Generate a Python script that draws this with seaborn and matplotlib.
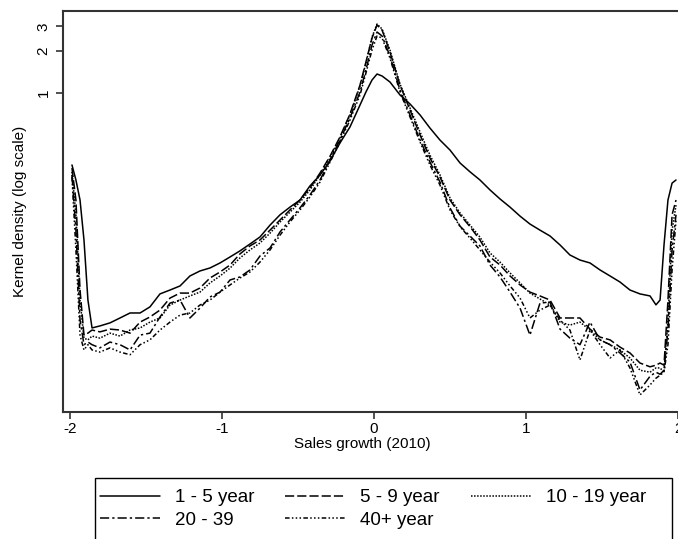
import matplotlib
matplotlib.use("Agg")
import matplotlib.pyplot as plt
from matplotlib.patches import Rectangle
import seaborn as sns
import pandas as pd

# evaluation grid (sales growth)
growth = [-1.987, -1.961, -1.934, -1.908, -1.882, -1.855,
          -1.803, -1.737, -1.671, -1.605, -1.539, -1.474, -1.408, -1.342, -1.276,
          -1.211, -1.145, -1.079, -1.013, -0.947, -0.882, -0.816, -0.750, -0.684,
          -0.618, -0.553, -0.487, -0.421, -0.355, -0.289, -0.224, -0.158, -0.092,
          -0.053, -0.013, 0.020, 0.053, 0.105,
          0.171, 0.237, 0.303, 0.368, 0.434, 0.500, 0.566, 0.632, 0.697, 0.763,
          0.829, 0.895, 0.961, 1.026, 1.092, 1.158, 1.224, 1.289, 1.355, 1.421,
          1.487, 1.553, 1.618, 1.684, 1.750, 1.816,
          1.855, 1.882, 1.908, 1.934, 1.961, 1.987]

dens_1_5 = [0.305, 0.238, 0.171, 0.0884, 0.0328, 0.0207,
            0.0214, 0.0225, 0.0244, 0.0265, 0.0265, 0.0293, 0.0363, 0.0387, 0.0414,
            0.0488, 0.0530, 0.0557, 0.0605, 0.0668, 0.0738, 0.0827, 0.0929, 0.113,
            0.134, 0.152, 0.171, 0.216, 0.258, 0.326, 0.438, 0.571, 0.820,
            1.017, 1.239, 1.368, 1.324, 1.199,
            0.968, 0.834, 0.696, 0.561, 0.460, 0.390, 0.315, 0.272, 0.238, 0.202,
            0.174, 0.152, 0.131, 0.115, 0.104, 0.0944, 0.0814, 0.0690, 0.0635, 0.0605,
            0.0539, 0.0488, 0.0442, 0.0387, 0.0363, 0.0351,
            0.0303, 0.0328, 0.0814, 0.171, 0.226, 0.238]

dens_5_9 = [0.290, 0.171, 0.0387, 0.0184, 0.0190, 0.0200,
            0.0194, 0.0203, 0.0200, 0.0190, 0.0228, 0.0248, 0.0278, 0.0339, 0.0368,
            0.0368, 0.0400, 0.0472, 0.0521, 0.0585, 0.0702, 0.0801, 0.0884, 0.104,
            0.123, 0.145, 0.171, 0.209, 0.267, 0.353, 0.484, 0.707, 1.141,
            1.668, 2.478, 3.071, 2.828, 1.967,
            1.141, 0.755, 0.500, 0.342, 0.250, 0.171, 0.134, 0.110, 0.0884, 0.0668,
            0.0585, 0.0488, 0.0421, 0.0374, 0.0351, 0.0328, 0.0244, 0.0244, 0.0244, 0.0203,
            0.0178, 0.0170, 0.0151, 0.0137, 0.0116, 0.0109,
            0.0112, 0.0116, 0.0112, 0.0328, 0.134, 0.171]

dens_10_19 = [0.272, 0.134, 0.0328, 0.0175, 0.0170, 0.0181,
              0.0175, 0.0190, 0.0181, 0.0200, 0.0207, 0.0228, 0.0244, 0.0302, 0.0328,
              0.0351, 0.0374, 0.0435, 0.0488, 0.0556, 0.0657, 0.0750, 0.0841, 0.0990,
              0.119, 0.140, 0.165, 0.202, 0.259, 0.342, 0.476, 0.695, 1.122,
              1.641, 2.519, 3.122, 2.875, 2.033,
              1.160, 0.781, 0.525, 0.359, 0.259, 0.177, 0.138, 0.113, 0.0927, 0.0714,
              0.0614, 0.0513, 0.0435, 0.0368, 0.0334, 0.0302, 0.0228, 0.0217, 0.0228, 0.0200,
              0.0170, 0.0157, 0.0144, 0.0126, 0.0103, 0.00997,
              0.0107, 0.0107, 0.00997, 0.0236, 0.104, 0.157]

dens_20_39 = [0.259, 0.104, 0.0236, 0.0157, 0.0164, 0.0157,
              0.0149, 0.0164, 0.0157, 0.0144, 0.0184, 0.0190, 0.0248, 0.0312, 0.0328,
              0.0244, 0.0287, 0.0345, 0.0374, 0.0457, 0.0480, 0.0539, 0.0679, 0.0775,
              0.101, 0.123, 0.150, 0.186, 0.238, 0.331, 0.460, 0.662, 1.017,
              1.462, 2.208, 2.736, 2.561, 1.841,
              1.051, 0.695, 0.460, 0.320, 0.230, 0.150, 0.111, 0.0942, 0.0801, 0.0585,
              0.0480, 0.0374, 0.0287, 0.0184, 0.0312, 0.0317, 0.0203, 0.0175, 0.0157, 0.0228,
              0.0170, 0.0157, 0.0137, 0.0118, 0.00744, 0.00933,
              0.00997, 0.00964, 0.0103, 0.0200, 0.0750, 0.134]

dens_40p = [0.250, 0.0750, 0.0184, 0.0144, 0.0157, 0.0144,
            0.0139, 0.0149, 0.0139, 0.0133, 0.0157, 0.0170, 0.0200, 0.0228, 0.0256,
            0.0265, 0.0302, 0.0328, 0.0374, 0.0421, 0.0472, 0.0521, 0.0614, 0.0750,
            0.0958, 0.119, 0.145, 0.180, 0.230, 0.320, 0.445, 0.640, 0.968,
            1.391, 2.033, 2.561, 2.478, 1.782,
            1.017, 0.673, 0.445, 0.305, 0.219, 0.145, 0.110, 0.0911, 0.0750, 0.0614,
            0.0513, 0.0414, 0.0339, 0.0244, 0.0278, 0.0302, 0.0236, 0.0200, 0.0122, 0.0200,
            0.0157, 0.0126, 0.0144, 0.0107, 0.00685, 0.00808,
            0.00903, 0.00948, 0.00997, 0.0157, 0.0539, 0.123]

cohorts = ["1 - 5 year", "5 - 9 year", "10 - 19 year", "20 - 39", "40+ year"]
series = [dens_1_5, dens_5_9, dens_10_19, dens_20_39, dens_40p]

x_ticks = [-2, -1, 0, 1, 2]
y_ticks = [1, 2, 3]

rows = []
for name, vals in zip(cohorts, series):
    for g, d in zip(growth, vals):
        rows.append({"growth": g, "density": d, "cohort": name})
df = pd.DataFrame(rows)

sns.set_theme(style="white")
plt.rcParams["font.family"] = ["Liberation Sans", "DejaVu Sans"]
plt.rcParams["text.color"] = "black"

W, H = 678, 539
fig = plt.figure(figsize=(W / 100, H / 100), dpi=100)
ax = fig.add_axes([63 / W, 1 - 412 / H, 1 - 63 / W, (412 - 11) / H])

dash_map = {
    "1 - 5 year": "",
    "5 - 9 year": (6, 2),
    "10 - 19 year": (1, 1),
    "20 - 39": (6, 2, 1.5, 2),
    "40+ year": (3, 1.5, 1, 1.5, 1, 1.5, 1, 1.5),
}

sns.lineplot(data=df, x="growth", y="density", style="cohort", style_order=cohorts,
             dashes=dash_map, color="black", linewidth=1.1, estimator=None,
             sort=False, legend=False, ax=ax)

ax.set_yscale("log")
ax.set_xlim(-2.046, 2.0)
ax.set_ylim(0.00517, 3.87)
ax.set_xticks(x_ticks)
ax.set_xticklabels([str(t) for t in x_ticks])
ax.set_yticks(y_ticks)
ax.set_yticklabels([str(t) for t in y_ticks])
ax.yaxis.set_minor_locator(matplotlib.ticker.NullLocator())
for lab in ax.get_yticklabels():
    lab.set_rotation(90)
    lab.set_va("center")

ax.tick_params(axis="both", which="major", direction="out", length=5, width=1.2,
               color="#333333", labelsize=11, labelcolor="black", bottom=True, left=True)
ax.tick_params(axis="x", pad=2)
ax.tick_params(axis="y", pad=4)

for side in ["left", "bottom", "top"]:
    ax.spines[side].set_visible(True)
    ax.spines[side].set_color("#333333")
    ax.spines[side].set_linewidth(1.5)
ax.spines["right"].set_visible(False)

ax.set_xlabel("Sales growth (2010)", fontsize=11, color="black")
ax.set_ylabel("Kernel density (log scale)", fontsize=11, color="black")
ax.xaxis.set_label_coords((362 - 63) / 615, -0.062)
ax.yaxis.set_label_coords(-0.058, 0.5)

lines = ax.get_lines()
order = [0, 3, 1, 4, 2]
handles = [lines[i] for i in order]
labels = [cohorts[i] for i in order]
leg = fig.legend(handles, labels, ncol=3, loc="upper left",
                 bbox_to_anchor=(100 / W, 1 - 489 / H),
                 fontsize=13.5, frameon=False, labelcolor="black",
                 handlelength=3.2, handletextpad=0.8, labelspacing=0.3,
                 borderpad=0.0, borderaxespad=0.0, columnspacing=1.65)

fig.patches.append(Rectangle((95 / W, -0.05), (672 - 95) / W, 0.05 + 1 - 478 / H,
                             transform=fig.transFigure, fill=False,
                             edgecolor="black", linewidth=1.0, clip_on=False))

fig.savefig("out.png", dpi=100)
